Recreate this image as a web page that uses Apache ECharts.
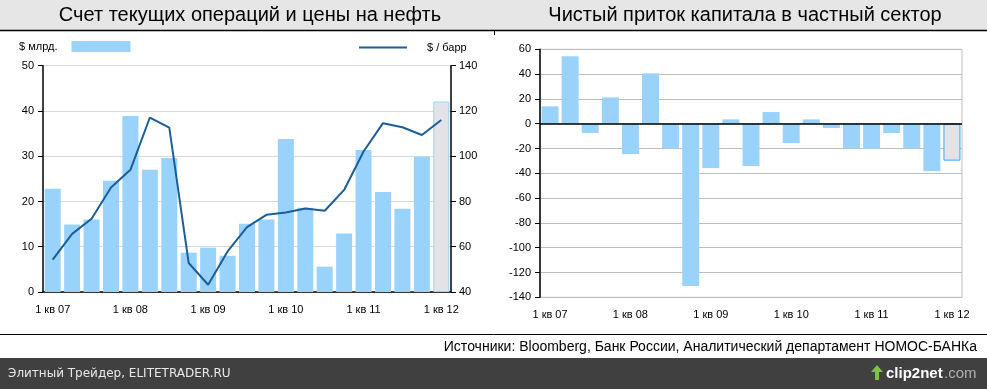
<!DOCTYPE html>
<html><head><meta charset="utf-8">
<script src="https://cdn.jsdelivr.net/npm/echarts@6/dist/echarts.min.js"></script>
<style>html,body{margin:0;padding:0;background:#fff;}#c{width:987px;height:389px;}</style>
</head><body><div id="c"></div>
<script>
var categories = ["1 кв 07","2 кв 07","3 кв 07","4 кв 07","1 кв 08","2 кв 08","3 кв 08","4 кв 08","1 кв 09","2 кв 09","3 кв 09","4 кв 09","1 кв 10","2 кв 10","3 кв 10","4 кв 10","1 кв 11","2 кв 11","3 кв 11","4 кв 11","1 кв 12"];
var currentAccount = [22.8,14.9,16.0,24.6,38.9,27.0,29.6,8.7,9.8,8.0,15.1,16.0,33.8,18.6,5.6,12.9,31.4,22.1,18.4,29.9,42.1];
var oilPrice = [54.3,65.7,72.4,86.2,94.0,117.1,112.6,52.8,43.2,57.9,68.7,74.1,75.1,76.9,75.9,85.1,102.1,114.6,112.8,109.4,116.0];
var capitalFlow = [14.0,54.3,-7.5,21.2,-24.5,40.6,-19.9,-130.9,-35.8,3.5,-34.1,9.4,-15.6,3.5,-3.5,-19.9,-20.2,-7.5,-19.9,-38.2,-29.8];
var leftTicks = {min:0,max:50,interval:10};
var oilTicks = {min:40,max:140,interval:20};
var flowTicks = {min:-140,max:60,interval:20};
var titleLeft = "Счет текущих операций и цены на нефть";
var titleRight = "Чистый приток капитала в частный сектор";
var legendBar = "$ млрд.";
var legendLine = "$ / барр";
var sourceText = "Источники: Bloomberg, Банк России, Аналитический департамент НОМОС-БАНКа";
var footerText = "Элитный Трейдер, ELITETRADER.RU";

var FONT = "Liberation Sans, Arial, sans-serif";
var BLUE = "#99d3fb";
var last = categories.length - 1;
var barLeftData = currentAccount.map(function(v,i){
  return i===last ? {value:v,itemStyle:{color:"#e3e2e6",borderColor:BLUE,borderWidth:1}} : v;
});
var barRightData = capitalFlow.map(function(v,i){
  return i===last ? {value:v,itemStyle:{color:"#e3e2e6",borderColor:"#3ea7f0",borderWidth:1}} : v;
});
var axisLabel = {color:"#000",fontSize:11,fontFamily:FONT};
var chart = echarts.init(document.getElementById('c'),null,{renderer:'canvas'});
chart.setOption({
  animation:false,
  backgroundColor:"#fff",
  title:[
    {text:titleLeft,left:245,top:0,textAlign:'center',textStyle:{fontSize:20,fontWeight:'normal',color:'#000',fontFamily:FONT}},
    {text:titleRight,left:740,top:0,textAlign:'center',textStyle:{fontSize:20,fontWeight:'normal',color:'#000',fontFamily:FONT}}
  ],
  legend:[
    {data:[legendBar],left:14,top:36,align:'right',icon:'rect',itemWidth:59,itemHeight:11,selectedMode:false,
     textStyle:{fontSize:11,color:'#000',fontFamily:FONT,padding:[0,9,0,0]}},
    {data:[legendLine],left:354,top:37,icon:'rect',itemWidth:48,itemHeight:2,selectedMode:false,
     textStyle:{fontSize:11,color:'#000',fontFamily:FONT,padding:[0,0,0,15]}}
  ],
  grid:[
    {left:43,right:536,top:65.7,bottom:97,containLabel:false},
    {left:540,right:25,top:49.3,bottom:91.7,containLabel:false,show:true,borderColor:'#bfbfbf',borderWidth:1}
  ],
  xAxis:[
    {type:'category',gridIndex:0,data:categories,boundaryGap:true,
     axisLine:{lineStyle:{color:'#000',width:1.5}},axisTick:{show:false},
     axisLabel:Object.assign({interval:3,margin:12},axisLabel)},
    {type:'category',gridIndex:1,data:categories,boundaryGap:true,
     axisLine:{show:false,onZero:false},axisTick:{show:false},
     axisLabel:Object.assign({interval:3,margin:12},axisLabel)}
  ],
  yAxis:[
    {type:'value',gridIndex:0,min:leftTicks.min,max:leftTicks.max,interval:leftTicks.interval,
     axisLine:{show:true,lineStyle:{color:'#000',width:1.5}},axisTick:{show:true,length:5,lineStyle:{color:'#000'}},
     splitLine:{lineStyle:{color:'#d9d9d9'}},axisLabel:Object.assign({margin:9},axisLabel)},
    {type:'value',gridIndex:0,position:'right',min:oilTicks.min,max:oilTicks.max,interval:oilTicks.interval,
     axisLine:{show:true,lineStyle:{color:'#000',width:1.5}},axisTick:{show:true,length:5,lineStyle:{color:'#000'}},
     splitLine:{show:false},axisLabel:Object.assign({margin:8},axisLabel)},
    {type:'value',gridIndex:1,min:flowTicks.min,max:flowTicks.max,interval:flowTicks.interval,
     axisLine:{show:true,lineStyle:{color:'#000',width:1.5}},axisTick:{show:true,length:5,lineStyle:{color:'#000'}},
     splitLine:{lineStyle:{color:'#bfbfbf'}},axisLabel:Object.assign({margin:9},axisLabel)}
  ],
  series:[
    {name:legendBar,type:'bar',xAxisIndex:0,yAxisIndex:0,data:barLeftData,barWidth:16,itemStyle:{color:BLUE}},
    {name:legendLine,type:'line',xAxisIndex:0,yAxisIndex:1,data:oilPrice,symbol:'none',lineStyle:{color:'#1b5e9c',width:2},itemStyle:{color:'#1b5e9c'}},
    {name:'flow',type:'bar',xAxisIndex:1,yAxisIndex:2,data:barRightData,barWidth:17,itemStyle:{color:BLUE},
     markLine:{silent:true,symbol:'none',label:{show:false},lineStyle:{color:'#000',width:1.5,type:'solid'},data:[{yAxis:0}]}}
  ],
  graphic:[
    {type:'rect',z:-10,shape:{x:0,y:0,width:987,height:30},style:{fill:'#e6e6e6'}},
    {type:'line',z:10,shape:{x1:0,y1:30.5,x2:987,y2:30.5},style:{stroke:'#000',lineWidth:1.5}},
    {type:'line',z:10,shape:{x1:494.5,y1:30,x2:494.5,y2:35},style:{stroke:'#000',lineWidth:1}},
    {type:'line',z:10,shape:{x1:0,y1:334.5,x2:987,y2:334.5},style:{stroke:'#000',lineWidth:1}},
    {type:'text',z:10,right:10,top:340,style:{text:sourceText,fill:'#000',font:'14px "Liberation Sans", Arial, sans-serif'}},
    {type:'rect',z:5,shape:{x:0,y:358,width:987,height:31},style:{fill:'#404040'}},
    {type:'text',z:10,left:8,top:368,style:{text:footerText,fill:'#e8e8e8',font:'12px "DejaVu Sans", sans-serif'}},
    {type:'text',z:10,left:886,top:366,style:{text:'clip2net',fill:'#ffffff',font:'bold 15px "Liberation Sans", Arial, sans-serif'}},
    {type:'text',z:10,left:944,top:366,style:{text:'.com',fill:'#b0b0b0',font:'15px "Liberation Sans", Arial, sans-serif'}},
    {type:'polygon',z:10,shape:{points:[[871,372],[877,365],[883,372],[879,372],[879,380],[875,380],[875,372]]},style:{fill:'#7cc242'}}
  ]
});
</script></body></html>
